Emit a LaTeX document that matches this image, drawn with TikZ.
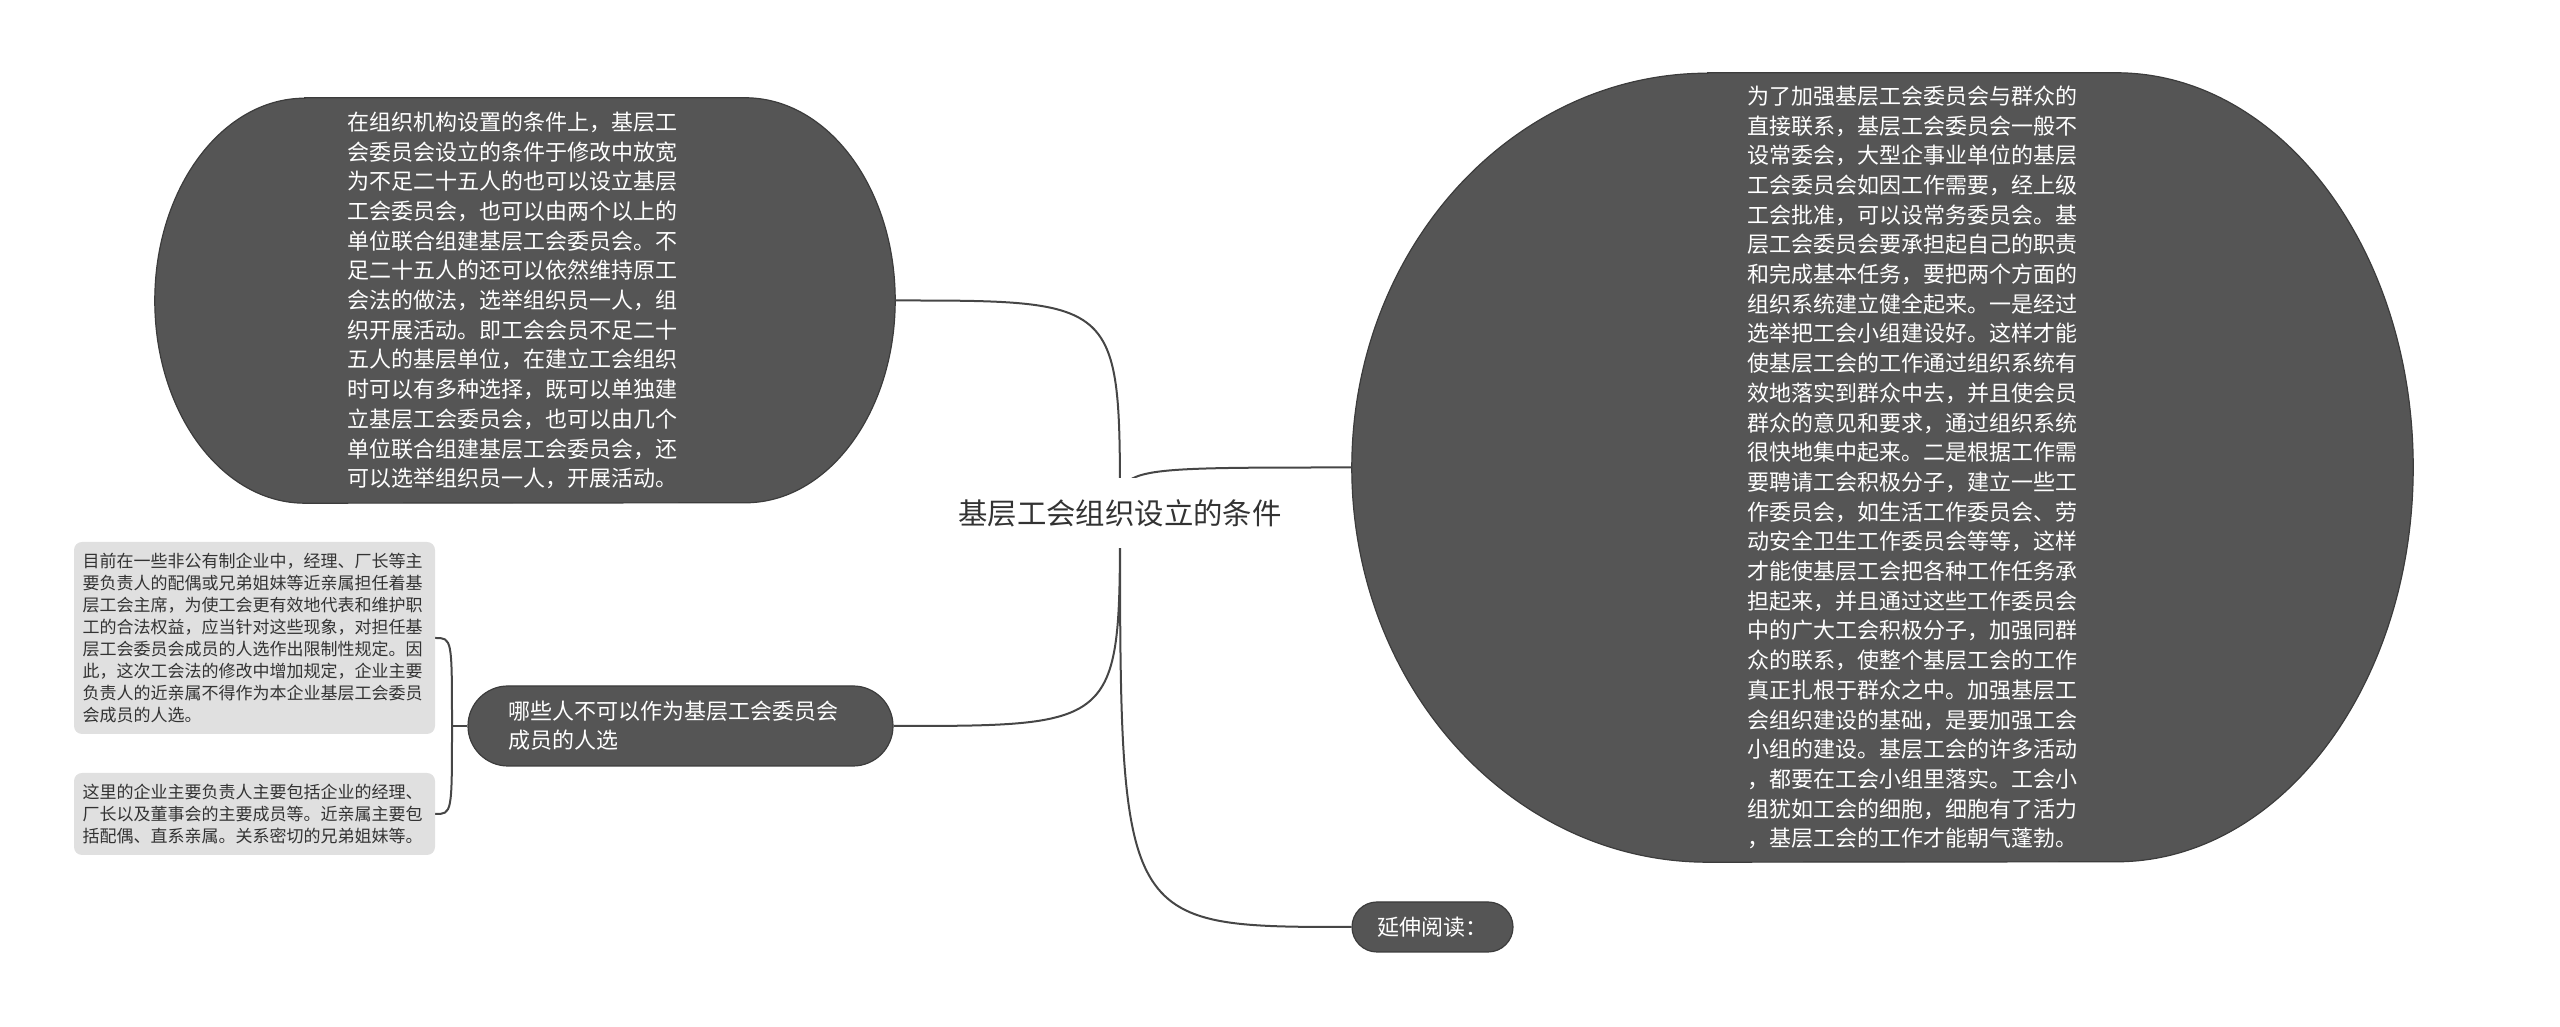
\documentclass[tikz,border=0pt]{standalone}
\usepackage{fontspec}
\setmainfont{Noto Sans CJK SC}
\usetikzlibrary{backgrounds}
\definecolor{nodegray}{RGB}{85,85,85}
\definecolor{edgegray}{RGB}{60,60,60}
\definecolor{linegray}{RGB}{70,70,70}
\definecolor{notegray}{RGB}{224,224,224}
\definecolor{inkgray}{RGB}{51,51,51}

% oval with elliptic ends: node name, left x radius, right x radius, y radius
\newcommand{\ovalshape}[4]{%
  \filldraw[oval] ([xshift=#2]#1.north west) -- ([xshift=-#3]#1.north east)
    arc[start angle=90, end angle=-90, x radius=#3, y radius=#4]
    -- ([xshift=#2]#1.south west)
    arc[start angle=270, end angle=90, x radius=#2, y radius=#4] -- cycle;}

\begin{document}
\begin{tikzpicture}[
    x=1pt, y=1pt,
    oval/.style={fill=nodegray, draw=edgegray, line width=1.2pt},
    ovaltext/.style={text=white, font=\fontsize{22}{29.7}\selectfont, align=left, inner sep=0pt},
    pill/.style={fill=nodegray, draw=edgegray, line width=1.2pt, rounded corners=#1,
        text=white, font=\fontsize{22}{29}\selectfont},
    note/.style={fill=notegray, rounded corners=8pt, text=inkgray, font=\fontsize{17}{22}\selectfont,
        align=left, text width=344pt, inner xsep=8.5pt, inner ysep=0pt},
    link/.style={draw=linegray, line width=2pt},
    root/.style={fill=white, text=inkgray, font=\fontsize{29.4}{32}\selectfont,
        minimum height=70pt, inner xsep=4pt}
]
    \useasboundingbox (0,0) rectangle (2560,1027);

    % ==========================================
    % ROOT
    % ==========================================
    \node[root] (root) at (1120, 514) {基层工会组织设立的条件};

    % ==========================================
    % BIG OVALS
    % ==========================================
    % Left: conditions
    \node[ovaltext, text width=356pt, minimum width=740pt, minimum height=405pt] (cond) at (525, 726.5) {%
        在组织机构设置的条件上，基层工\\
        会委员会设立的条件于修改中放宽\\
        为不足二十五人的也可以设立基层\\
        工会委员会，也可以由两个以上的\\
        单位联合组建基层工会委员会。不\\
        足二十五人的还可以依然维持原工\\
        会法的做法，选举组织员一人，组\\
        织开展活动。即工会会员不足二十\\
        五人的基层单位，在建立工会组织\\
        时可以有多种选择，既可以单独建\\
        立基层工会委员会，也可以由几个\\
        单位联合组建基层工会委员会，还\\
        可以选举组织员一人，开展活动。};

    % Right: committees (text sits right of centre)
    \node[ovaltext, align=right, text width=389pt, minimum width=1061pt, minimum height=789pt] (team) at (1882.5, 559.5) {%
        为了加强基层工会委员会与群众的\\
        直接联系，基层工会委员会一般不\\
        设常委会，大型企事业单位的基层\\
        工会委员会如因工作需要，经上级\\
        工会批准，可以设常务委员会。基\\
        层工会委员会要承担起自己的职责\\
        和完成基本任务，要把两个方面的\\
        组织系统建立健全起来。一是经过\\
        选举把工会小组建设好。这样才能\\
        使基层工会的工作通过组织系统有\\
        效地落实到群众中去，并且使会员\\
        群众的意见和要求，通过组织系统\\
        很快地集中起来。二是根据工作需\\
        要聘请工会积极分子，建立一些工\\
        作委员会，如生活工作委员会、劳\\
        动安全卫生工作委员会等等，这样\\
        才能使基层工会把各种工作任务承\\
        担起来，并且通过这些工作委员会\\
        中的广大工会积极分子，加强同群\\
        众的联系，使整个基层工会的工作\\
        真正扎根于群众之中。加强基层工\\
        会组织建设的基础，是要加强工会\\
        小组的建设。基层工会的许多活动\\
        ，都要在工会小组里落实。工会小\\
        组犹如工会的细胞，细胞有了活力\\
        ，基层工会的工作才能朝气蓬勃。};

    % ==========================================
    % PILLS
    % ==========================================
    \node[pill=40pt, text width=345pt, align=left, inner xsep=40pt, inner ysep=0pt,
        minimum height=80pt] (who) at (680.5, 301) {哪些人不可以作为基层工会委员会\\成员的人选};
    \node[pill=25pt, minimum width=161pt, minimum height=50pt, inner sep=0pt] (more) at (1432.5, 100) {延伸阅读：};

    % ==========================================
    % NOTES (left of the pill)
    % ==========================================
    \node[note, minimum height=192pt] (note1) at (254.5, 389) {%
        目前在一些非公有制企业中，经理、厂长等主\\
        要负责人的配偶或兄弟姐妹等近亲属担任着基\\
        层工会主席，为使工会更有效地代表和维护职\\
        工的合法权益，应当针对这些现象，对担任基\\
        层工会委员会成员的人选作出限制性规定。因\\
        此，这次工会法的修改中增加规定，企业主要\\
        负责人的近亲属不得作为本企业基层工会委员\\
        会成员的人选。};
    \node[note, minimum height=82pt] (note2) at (254.5, 213) {%
        这里的企业主要负责人主要包括企业的经理、\\
        厂长以及董事会的主要成员等。近亲属主要包\\
        括配偶、直系亲属。关系密切的兄弟姐妹等。};

    \coordinate (fork) at (452, 301);

    % ==========================================
    % SHAPES & CONNECTORS (behind)
    % ==========================================
    \begin{scope}[on background layer]
        \ovalshape{cond}{150pt}{150pt}{202.5pt}
        \ovalshape{team}{356pt}{297pt}{394.5pt}

        \draw[link] (root.center) .. controls (root.center |- cond.east) .. (cond.east);
        \draw[link] (root.center) .. controls (root.center |- team.west) .. (team.west);
        \draw[link] (root.center) .. controls (root.center |- who.east) .. (who.east);
        \draw[link] (root.center) .. controls (root.center |- more.west) .. (more.west);

        \draw[link] (who.west) -- (fork);
        \draw[link] (fork) .. controls (fork |- note1.east) .. (note1.east);
        \draw[link] (fork) .. controls (fork |- note2.east) .. (note2.east);
    \end{scope}

\end{tikzpicture}
\end{document}
